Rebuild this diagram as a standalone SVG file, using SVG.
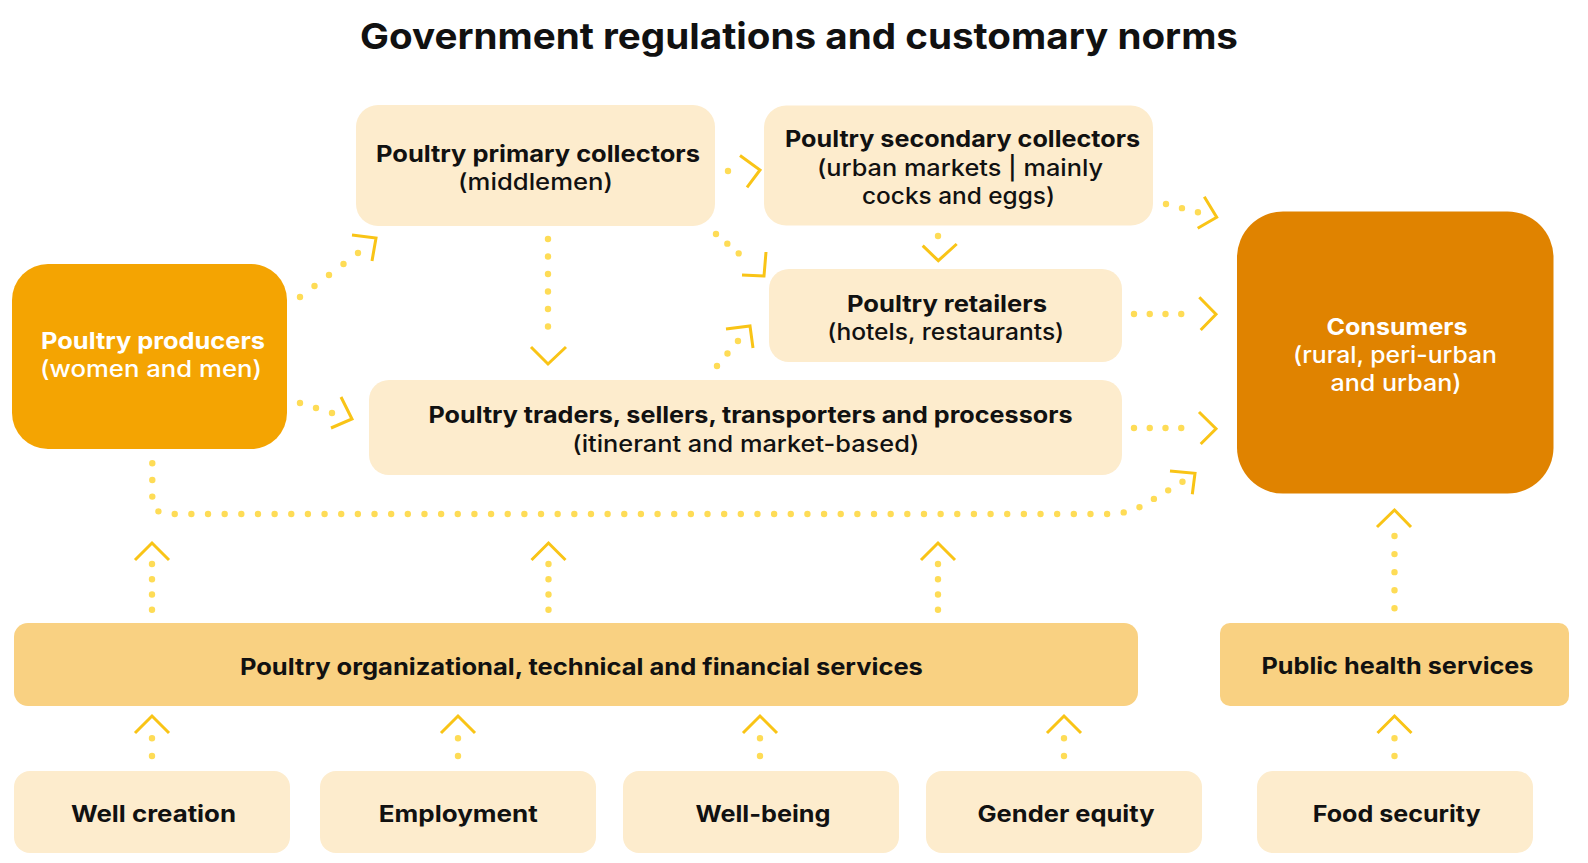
<svg xmlns="http://www.w3.org/2000/svg" width="1588" height="863" viewBox="0 0 1588 863">
<style>
  text { font-family: Inter, "Open Sans", "Noto Sans", "Liberation Sans", sans-serif; font-size: 23px; fill: #111; text-anchor: middle; }
  .b { font-weight: 700; }
  .r { font-weight: 500; }
  .w { fill: #fff; }
  .title { font-size: 36px; font-weight: 700; }
  .light { fill: #FDECCD; }
  .mid { fill: #F9D182; }
  .dot { fill: none; stroke: #FEDC56; stroke-width: 6.4; stroke-linecap: round; }
  .head { fill: none; stroke: #F9C416; stroke-width: 3; stroke-linejoin: miter; stroke-linecap: butt; }
</style>
<rect width="1588" height="863" fill="#fff"/>

<text class="title" x="799" y="49" textLength="878" lengthAdjust="spacingAndGlyphs">Government regulations and customary norms</text>

<g id="producers">
  <rect x="12" y="264" width="275" height="185" rx="36" fill="#F4A402"/>
  <text class="b w" x="153" y="349" textLength="224" lengthAdjust="spacingAndGlyphs">Poultry producers</text>
  <text class="r w" x="151" y="377" textLength="222" lengthAdjust="spacingAndGlyphs">(women and men)</text>
</g>

<g id="primary-collectors">
  <rect class="light" x="356" y="105" width="359" height="121" rx="22"/>
  <text class="b" x="538" y="161.7" textLength="324" lengthAdjust="spacingAndGlyphs">Poultry primary collectors</text>
  <text class="r" x="535.5" y="190" textLength="155" lengthAdjust="spacingAndGlyphs">(middlemen)</text>
</g>

<g id="secondary-collectors">
  <rect class="light" x="764" y="105.5" width="389" height="120" rx="22"/>
  <text class="b" x="962.5" y="147.3" textLength="355" lengthAdjust="spacingAndGlyphs">Poultry secondary collectors</text>
  <text class="r" x="960" y="175.7" textLength="286" lengthAdjust="spacingAndGlyphs">(urban markets | mainly</text>
  <text class="r" x="958.5" y="204" textLength="193" lengthAdjust="spacingAndGlyphs">cocks and eggs)</text>
</g>

<g id="retailers">
  <rect class="light" x="769" y="269" width="353" height="93" rx="20"/>
  <text class="b" x="947" y="311.7" textLength="200" lengthAdjust="spacingAndGlyphs">Poultry retailers</text>
  <text class="r" x="945.7" y="340" textLength="237" lengthAdjust="spacingAndGlyphs">(hotels, restaurants)</text>
</g>

<g id="traders">
  <rect class="light" x="369" y="380" width="753" height="95" rx="20"/>
  <text class="b" x="750.5" y="423.3" textLength="644" lengthAdjust="spacingAndGlyphs">Poultry traders, sellers, transporters and processors</text>
  <text class="r" x="745.8" y="452.3" textLength="347" lengthAdjust="spacingAndGlyphs">(itinerant and market-based)</text>
</g>

<g id="consumers">
  <rect x="1237" y="211.5" width="316.5" height="282" rx="46" fill="#E08300"/>
  <text class="b w" x="1397" y="334.5" textLength="141" lengthAdjust="spacingAndGlyphs">Consumers</text>
  <text class="r w" x="1395" y="363" textLength="204" lengthAdjust="spacingAndGlyphs">(rural, peri-urban</text>
  <text class="r w" x="1396" y="391" textLength="131" lengthAdjust="spacingAndGlyphs">and urban)</text>
</g>

<g id="services">
  <rect class="mid" x="14" y="623" width="1124" height="83" rx="14"/>
  <text class="b" x="581.4" y="675" textLength="683" lengthAdjust="spacingAndGlyphs">Poultry organizational, technical and financial services</text>
</g>

<g id="public-health">
  <rect class="mid" x="1220" y="623" width="349" height="83" rx="10"/>
  <text class="b" x="1397.5" y="674" textLength="272" lengthAdjust="spacingAndGlyphs">Public health services</text>
</g>

<g id="well-creation">
  <rect class="light" x="14" y="771" width="276" height="82" rx="16"/>
  <text class="b" x="153.5" y="822" textLength="165" lengthAdjust="spacingAndGlyphs">Well creation</text>
</g>
<g id="employment">
  <rect class="light" x="320" y="771" width="276" height="82" rx="16"/>
  <text class="b" x="458.3" y="822" textLength="159" lengthAdjust="spacingAndGlyphs">Employment</text>
</g>
<g id="well-being">
  <rect class="light" x="623" y="771" width="276" height="82" rx="16"/>
  <text class="b" x="763" y="822" textLength="135" lengthAdjust="spacingAndGlyphs">Well-being</text>
</g>
<g id="gender-equity">
  <rect class="light" x="926" y="771" width="276" height="82" rx="16"/>
  <text class="b" x="1066" y="822" textLength="177" lengthAdjust="spacingAndGlyphs">Gender equity</text>
</g>
<g id="food-security">
  <rect class="light" x="1257" y="771" width="276" height="82" rx="16"/>
  <text class="b" x="1396.7" y="822" textLength="168" lengthAdjust="spacingAndGlyphs">Food security</text>
</g>

<g id="connectors">
  <!-- producers -> primary collectors -->
  <path class="dot" d="M300,297 L358,253" stroke-dasharray="0 18.2"/>
  <polyline class="head" points="352,235 376,238 372,261"/>
  <!-- producers -> traders -->
  <path class="dot" d="M300,403 L332,413" stroke-dasharray="0 16.76"/>
  <polyline class="head" points="341,397 352,419 331,428"/>
  <!-- primary -> traders -->
  <path class="dot" d="M548,239 L548,344" stroke-dasharray="0 17.5"/>
  <polyline class="head" points="531,347 548,364 566,347"/>
  <!-- primary -> retailers -->
  <path class="dot" d="M716,234 L750,263" stroke-dasharray="0 14.9"/>
  <polyline class="head" points="742,275 764,276 766,252"/>
  <!-- traders -> retailers -->
  <path class="dot" d="M717,366 L738,341" stroke-dasharray="0 16.3"/>
  <polyline class="head" points="726,329 750,326 753,348"/>
  <!-- primary -> secondary -->
  <path class="dot" d="M728,171 L742,171" stroke-dasharray="0 14"/>
  <polyline class="head" points="740,155.5 760,170 747,187.3"/>
  <!-- secondary -> retailers -->
  <path class="dot" d="M938,236 L938,246" stroke-dasharray="0 10"/>
  <polyline class="head" points="922.7,245.7 938.3,260.7 956.7,244"/>
  <!-- secondary -> consumers -->
  <path class="dot" d="M1166,204 L1198,212.3" stroke-dasharray="0 16.5"/>
  <polyline class="head" points="1204.3,196.7 1216.7,217.3 1197.7,228.3"/>
  <!-- retailers -> consumers -->
  <path class="dot" d="M1134,314 L1197,314" stroke-dasharray="0 15.75"/>
  <polyline class="head" points="1199.3,297.3 1216,314.3 1200.7,330"/>
  <!-- traders -> consumers -->
  <path class="dot" d="M1134,428 L1197,428" stroke-dasharray="0 15.75"/>
  <polyline class="head" points="1199,412 1216,428.7 1200.7,444"/>
  <!-- producers -> consumers (long) -->
  <path class="dot" d="M152.3,463.3 L152.3,497 Q152.3,514 169,514 L1112,514 Q1128,513 1142,506 L1184.3,480.7" stroke-dasharray="0 16.65"/>
  <polyline class="head" points="1170,471 1195,473.3 1192.3,494.3"/>
  <!-- services -> chain -->
  <path class="dot" d="M152,609.7 L152,564" stroke-dasharray="0 15.23"/>
  <polyline class="head" points="135,560 152,543 169,560"/>
  <path class="dot" d="M548.5,609.7 L548.5,564" stroke-dasharray="0 15.23"/>
  <polyline class="head" points="531.5,560 548.5,543 565.5,560"/>
  <path class="dot" d="M938,609.7 L938,564" stroke-dasharray="0 15.23"/>
  <polyline class="head" points="921,560 938,543 955,560"/>
  <!-- public health -> consumers -->
  <path class="dot" d="M1394.5,608.3 L1394.5,536" stroke-dasharray="0 18.07"/>
  <polyline class="head" points="1377,527 1394.5,510 1411,527"/>
  <!-- outcomes -> services -->
  <path class="dot" d="M152,756 L152,738.3" stroke-dasharray="0 17.7"/>
  <polyline class="head" points="135,733 152,716 169,733"/>
  <path class="dot" d="M458,756 L458,738.3" stroke-dasharray="0 17.7"/>
  <polyline class="head" points="441,733 458,716 475,733"/>
  <path class="dot" d="M760,756 L760,738.3" stroke-dasharray="0 17.7"/>
  <polyline class="head" points="743,733 760,716 777,733"/>
  <path class="dot" d="M1064,756 L1064,738.3" stroke-dasharray="0 17.7"/>
  <polyline class="head" points="1047,733 1064,716 1081,733"/>
  <path class="dot" d="M1394.5,756 L1394.5,738.3" stroke-dasharray="0 17.7"/>
  <polyline class="head" points="1377.5,733 1394.5,716 1411.5,733"/>
</g>
</svg>
